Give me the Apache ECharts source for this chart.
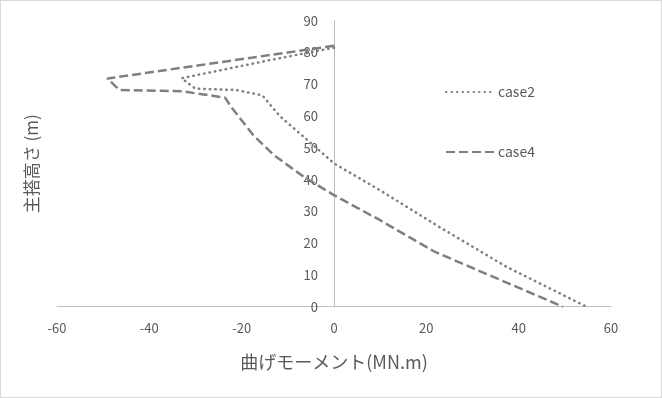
<!DOCTYPE html>
<html>
<head>
<meta charset="utf-8">
<script src="https://cdn.jsdelivr.net/npm/echarts@6/dist/echarts.min.js"></script>
<style>
    html, body { margin: 0; padding: 0; background: #fff; }
    #chart { position: absolute; left: 0; top: 0; width: 662px; height: 398px; }
    #frame { position: absolute; left: 0; top: 0; width: 662px; height: 398px; box-sizing: border-box; border: 1px solid #d9d9d9; pointer-events: none; }
</style>
</head>
<body>
<div id="chart"></div>
<div id="frame"></div>
<script>
// 曲げモーメント (MN.m) vs 主搭高さ (m)
var case2X = [0, -13.9, -33, -30, -21.2, -15.5, -13.5, -11.6, -6.6, 0, 9.9, 22.7, 37.3, 54.7];
var case2Y = [81.5, 77.6, 71.9, 68.6, 68.2, 66.5, 63, 59.8, 53.5, 45.1, 36.7, 25.2, 12.6, 0];

var case4X = [0, -49.1, -46.5, -33, -23.6, -22.3, -17.5, -13, -6.6, 0, 9.9, 21.8, 32.7, 49.6];
var case4Y = [82.1, 71.8, 68.2, 67.8, 65.8, 62.9, 54, 47.7, 40.9, 35.1, 27.3, 17.3, 10.5, 0];

var xTicks = [-60, -40, -20, 0, 20, 40, 60];
var yTicks = [0, 10, 20, 30, 40, 50, 60, 70, 80, 90];

function pairs(xs, ys) {
    var out = [];
    for (var i = 0; i < xs.length; i++) {
        out.push([xs[i], ys[i]]);
    }
    return out;
}

var font = '"Noto Sans CJK JP", "Noto Sans", sans-serif';
var gridLeft = 57, gridRight = 51;
// x=0 の位置 (y軸をそこへ寄せる)
var zeroX = gridLeft + (0 - xTicks[0]) / (xTicks[xTicks.length - 1] - xTicks[0]) * (662 - gridLeft - gridRight);

var chart = echarts.init(document.getElementById('chart'));
var option = {
    animation: false,
    textStyle: { fontFamily: font },
    grid: {
        left: gridLeft,
        right: gridRight,
        top: 20.7,
        bottom: 91.3,
        containLabel: false,
        outerBoundsMode: 'none'
    },
    legend: {
        orient: 'vertical',
        left: 440,
        top: 80,
        itemGap: 46,
        itemWidth: 49,
        itemHeight: 10,
        itemStyle: { opacity: 0 },
        textStyle: { color: '#595959', fontSize: 14, fontFamily: font, padding: [0, 0, 0, -2] },
        data: ['case2', 'case4']
    },
    xAxis: {
        type: 'value',
        min: xTicks[0],
        max: xTicks[xTicks.length - 1],
        interval: 20,
        name: '曲げモーメント(MN.m)',
        nameLocation: 'middle',
        nameGap: 46,
        nameTextStyle: { color: '#595959', fontSize: 18, fontFamily: font },
        axisLine: { onZero: false, lineStyle: { color: '#bfbfbf', width: 1 } },
        axisTick: { show: false },
        axisLabel: { color: '#595959', fontSize: 13, margin: 15 },
        splitLine: { show: false }
    },
    yAxis: {
        type: 'value',
        min: yTicks[0],
        max: yTicks[yTicks.length - 1],
        interval: 10,
        offset: -(zeroX - gridLeft),
        name: '主搭高さ (m)',
        nameLocation: 'middle',
        nameRotate: 90,
        nameGap: zeroX - 40,
        nameTextStyle: { color: '#595959', fontSize: 17, fontFamily: font },
        axisLine: { onZero: false, lineStyle: { color: '#bfbfbf', width: 1 } },
        axisTick: { show: false },
        axisLabel: { color: '#595959', fontSize: 13, margin: 16 },
        splitLine: { show: false }
    },
    series: [
        {
            name: 'case2',
            type: 'line',
            symbol: 'none',
            data: pairs(case2X, case2Y),
            lineStyle: { color: '#7f7f7f', width: 2.5, type: [0.5, 5], cap: 'round' },
            itemStyle: { color: '#7f7f7f' }
        },
        {
            name: 'case4',
            type: 'line',
            symbol: 'none',
            data: pairs(case4X, case4Y),
            lineStyle: { color: '#7f7f7f', width: 2.5, type: [9, 4] },
            itemStyle: { color: '#7f7f7f' }
        }
    ]
};
chart.setOption(option);
</script>
</body>
</html>
